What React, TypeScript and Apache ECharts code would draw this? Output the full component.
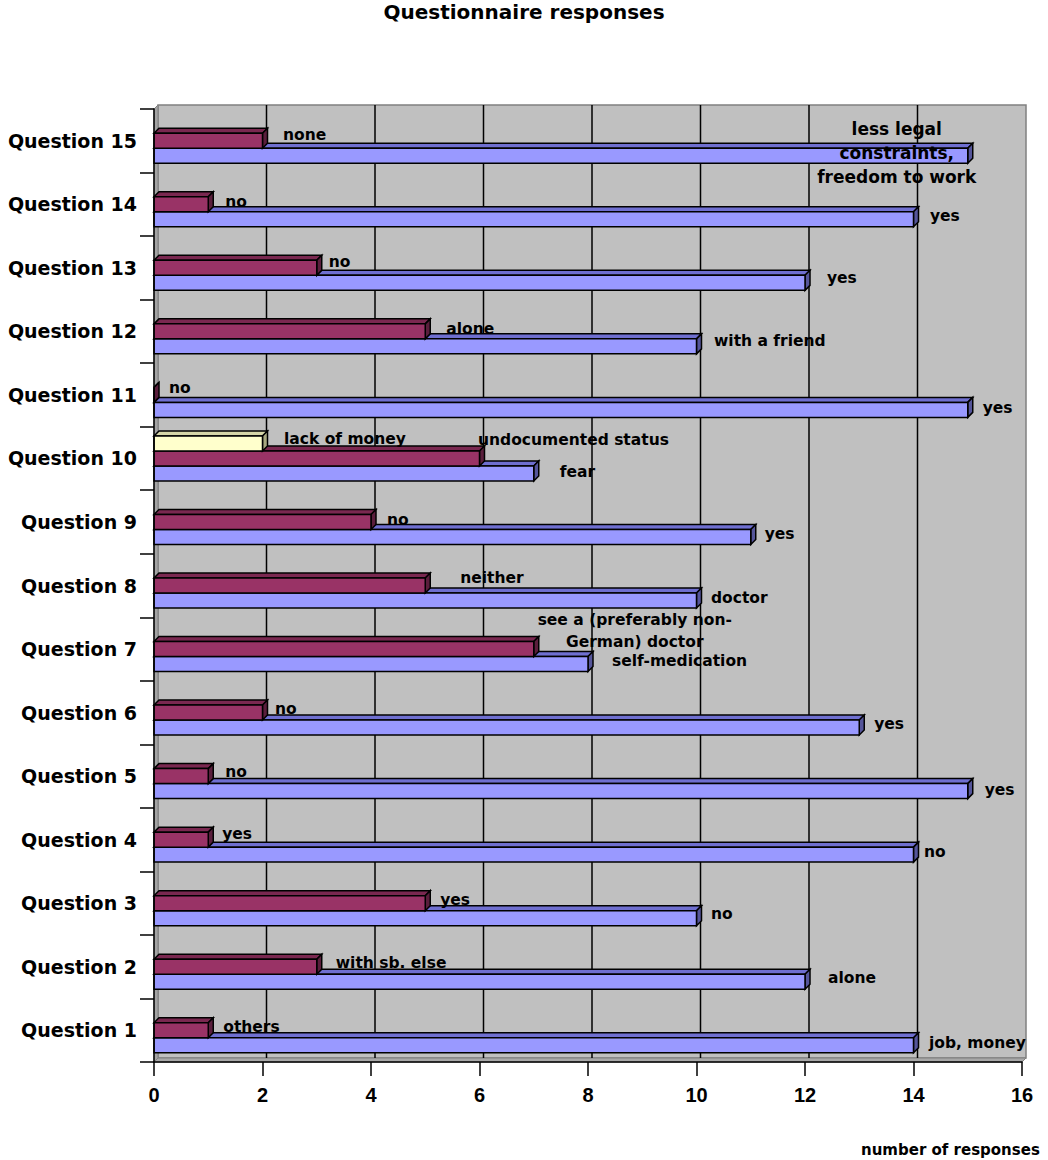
import React, { useEffect, useRef } from "react";
import * as echarts from "echarts";

const categories = [
  "Question 1", "Question 2", "Question 3", "Question 4", "Question 5",
  "Question 6", "Question 7", "Question 8", "Question 9", "Question 10",
  "Question 11", "Question 12", "Question 13", "Question 14", "Question 15",
];

const blueValues = [14, 12, 10, 14, 15, 13, 8, 10, 11, 7, 15, 10, 12, 14, 15];
const redValues = [1, 3, 5, 1, 1, 2, 7, 5, 4, 6, 0, 5, 3, 1, 2];
const yellowValues = [null, null, null, null, null, null, null, null, null, 2, null, null, null, null, null];

const blueLabels = [
  "job, money", "alone", "no", "no", "yes", "yes", "self-medication", "doctor",
  "yes", "fear", "yes", "with a friend", "yes", "yes",
  "less legal\nconstraints,\nfreedom to work",
];
const redLabels = [
  "others", "with sb. else", "yes", "yes", "no", "no",
  "see a (preferably non-\nGerman) doctor", "neither", "no",
  "undocumented status", "no", "alone", "no", "no", "none",
];
const yellowLabels = ["", "", "", "", "", "", "", "", "", "lack of money", "", "", "", "", ""];

const valueTicks = [0, 2, 4, 6, 8, 10, 12, 14, 16];

// label layout nudges: [dx from bar end, dy from bar centre, align, lineHeight, fontSize]
const blueNudge: any[] = [
  [10.5, -2], [18, -4], [9.5, -4], [5.5, -3], [12, -1], [10, -3.5], [19, -3], [9.5, -2.5],
  [9, -3], [21, -1], [10, -2], [12.5, -5], [17, -5], [11.5, -3], [-76, -2.7, "center", 24, 17],
];
const redNudge: any[] = [
  [10, -3], [14, -3.6], [10, -3], [9, -5.6], [12, -4], [7.5, -3.5], [96, -18, "center", 22],
  [30, -7.5], [11, -2], [-6.5, -18], [10, -7], [16, -2], [7, -6], [12, -2], [15.5, -6],
];
const yellowNudge: any[] = [
  [0, 0], [0, 0], [0, 0], [0, 0], [0, 0], [0, 0], [0, 0], [0, 0], [0, 0], [16.5, -4],
  [0, 0], [0, 0], [0, 0], [0, 0], [0, 0],
];

const LABEL_FONT = '"DejaVu Sans", sans-serif';
const DEPTH = 5;
const WALL_DEPTH = 4;

function barSeries(
  name: string,
  values: (number | null)[],
  labels: string[],
  nudges: any[],
  colors: { front: string; top: string; side: string },
  slot: number
) {
  const data = values
    .map((v, i) => (v == null ? null : [v, i]))
    .filter((d) => d != null);
  return {
    name,
    type: "custom",
    coordinateSystem: "cartesian2d",
    clip: false,
    z: 3,
    encode: { x: 0, y: 1 },
    data,
    renderItem: (params: any, api: any) => {
      const v = api.value(0);
      const i = api.value(1);
      const start = api.coord([0, i]);
      const end = api.coord([v, i]);
      const band = api.size([0, 1])[1];
      const h = band * 0.236;
      const yTop = start[1] + h * 1.5 - (slot + 1) * h;
      const yBot = yTop + h;
      const x0 = start[0];
      const xe = end[0];
      const d = DEPTH;
      const stroke = { stroke: "#000", lineWidth: 1.5, lineJoin: "miter" };
      const children: any[] = [
        {
          type: "polygon",
          shape: { points: [[x0, yTop], [x0 + d, yTop - d], [xe + d, yTop - d], [xe, yTop]] },
          style: { fill: colors.top, ...stroke },
        },
        {
          type: "polygon",
          shape: { points: [[xe, yTop], [xe + d, yTop - d], [xe + d, yBot - d], [xe, yBot]] },
          style: { fill: colors.side, ...stroke },
        },
        {
          type: "rect",
          shape: { x: x0, y: yTop, width: xe - x0, height: h },
          style: { fill: colors.front, ...stroke },
        },
      ];
      const n = nudges[i] || [11, -3];
      const text = labels[i];
      if (text) {
        children.push({
          type: "text",
          x: xe + d + n[0],
          y: (yTop + yBot) / 2 + n[1],
          style: {
            text,
            fill: "#000",
            fontFamily: LABEL_FONT,
            fontWeight: "bold",
            fontSize: n[4] || 15.5,
            align: n[2] || "left",
            verticalAlign: "middle",
            lineHeight: n[3] || 18,
          },
        });
      }
      return { type: "group", children };
    },
  };
}

const wallsSeries = {
  name: "walls",
  type: "custom",
  coordinateSystem: "cartesian2d",
  clip: false,
  silent: true,
  z: 1,
  encode: { x: 0, y: 1 },
  data: [[0, 0]],
  renderItem: (params: any, api: any) => {
    const p0 = api.coord([0, 0]);
    const pTop = api.coord([valueTicks[valueTicks.length - 1], categories.length - 1]);
    const band = api.size([0, 1])[1];
    const left = p0[0];
    const right = pTop[0];
    const bottom = p0[1] + band / 2;
    const top = pTop[1] - band / 2;
    const D = WALL_DEPTH;
    const children: any[] = [
      {
        type: "rect",
        shape: { x: left + D, y: top - D, width: right - left, height: bottom - top },
        style: { fill: "#c0c0c0", stroke: "#808080", lineWidth: 1.5 },
      },
      {
        type: "polygon",
        shape: { points: [[left, top], [left + D, top - D], [left + D, bottom - D], [left, bottom]] },
        style: { fill: "#a4a4a4", stroke: "#808080", lineWidth: 1 },
      },
      {
        type: "polygon",
        shape: { points: [[left, bottom], [left + D, bottom - D], [right + D, bottom - D], [right, bottom]] },
        style: { fill: "#a8a8a8", stroke: "#808080", lineWidth: 1 },
      },
    ];
    valueTicks.slice(1, -1).forEach((t) => {
      const x = api.coord([t, 0])[0] + D;
      children.push({
        type: "line",
        shape: { x1: x, y1: top - D, x2: x, y2: bottom - D },
        style: { stroke: "#000", lineWidth: 1.5 },
      });
    });
    return { type: "group", children };
  },
};

export default function App() {
  const ref = useRef<HTMLDivElement>(null);
  useEffect(() => {
    document.body.style.margin = "0";
    if (!ref.current) return;
    const chart = echarts.init(ref.current, undefined, { renderer: "svg" });
    chart.setOption({
      animation: false,
      backgroundColor: "#ffffff",
      title: {
        text: "Questionnaire responses",
        left: "center",
        top: 2,
        padding: 0,
        textStyle: { fontFamily: LABEL_FONT, fontWeight: "bold", fontSize: 20, color: "#000" },
      },
      grid: { left: 154, right: 26, top: 109, bottom: 98 },
      xAxis: {
        type: "value",
        min: 0,
        max: 16,
        interval: 2,
        z: 5,
        axisLine: { show: true, lineStyle: { color: "#000", width: 1.5 } },
        axisTick: { show: true, length: 14, lineStyle: { color: "#000", width: 1.5 } },
        splitLine: { show: false },
        axisLabel: {
          margin: 23,
          fontFamily: '"Liberation Sans", Arial, sans-serif',
          fontWeight: "bold",
          fontSize: 20,
          color: "#000",
        },
      },
      yAxis: {
        type: "category",
        data: categories,
        z: 5,
        axisLine: { show: true, lineStyle: { color: "#000", width: 1.5 } },
        axisTick: { show: true, length: 14, lineStyle: { color: "#000", width: 1.5 } },
        splitLine: { show: false },
        axisLabel: {
          margin: 17,
          fontFamily: LABEL_FONT,
          fontWeight: "bold",
          fontSize: 19,
          color: "#000",
        },
      },
      graphic: [
        {
          type: "text",
          x: 861,
          y: 1150,
          style: {
            text: "number of responses",
            fill: "#000",
            fontFamily: LABEL_FONT,
            fontWeight: "bold",
            fontSize: 15,
            verticalAlign: "middle",
          },
        },
      ],
      series: [
        wallsSeries,
        barSeries("blue", blueValues, blueLabels, blueNudge, { front: "#9999ff", top: "#6f6fd0", side: "#55559a" }, 0),
        barSeries("red", redValues, redLabels, redNudge, { front: "#993366", top: "#7a2850", side: "#5a1e3c" }, 1),
        barSeries("yellow", yellowValues, yellowLabels, yellowNudge, { front: "#ffffcc", top: "#d6d6a8", side: "#a8a880" }, 2),
      ],
    });
    return () => chart.dispose();
  }, []);
  return <div ref={ref} style={{ width: 1048, height: 1160 }} />;
}
